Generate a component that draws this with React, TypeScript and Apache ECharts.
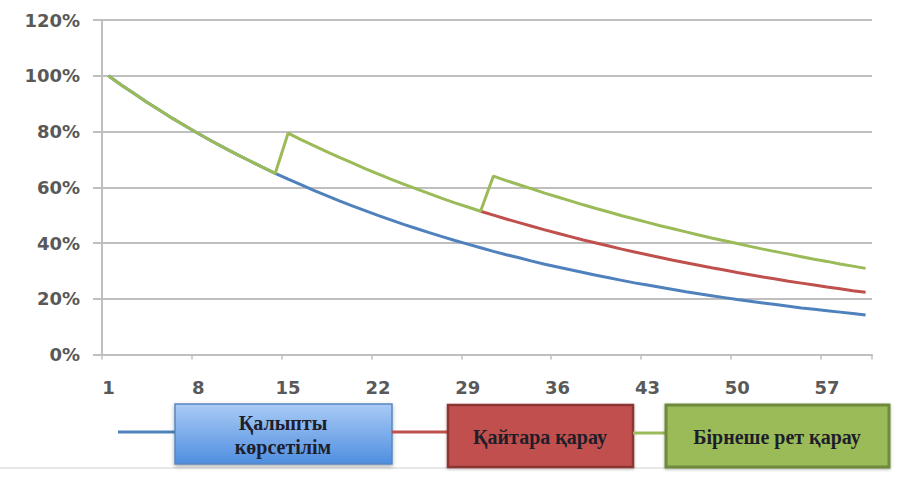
import React, { useEffect, useRef } from "react";
import * as echarts from "echarts";

const categories: string[] = Array.from({ length: 60 }, (_, i) => String(i + 1));

const normalView: number[] = [
  100, 96.7, 93.6, 90.5, 87.6, 84.7, 82.0, 79.3, 76.7, 74.2,
  71.8, 69.5, 67.2, 65.0, 62.9, 60.9, 58.9, 57.0, 55.1, 53.3,
  51.6, 49.9, 48.3, 46.7, 45.2, 43.7, 42.3, 40.9, 39.6, 38.3,
  37.0, 35.8, 34.7, 33.5, 32.4, 31.4, 30.4, 29.4, 28.4, 27.5,
  26.6, 25.7, 24.9, 24.1, 23.3, 22.5, 21.8, 21.1, 20.4, 19.7,
  19.1, 18.5, 17.9, 17.3, 16.7, 16.2, 15.7, 15.2, 14.7, 14.2,
];

const reView: (number | null)[] = [
  null, null, null, null, null, null, null, null, null, null,
  null, null, null, null, null, null, null, null, null, null,
  null, null, null, null, null, null, null, null, null, 51.4,
  50.0, 48.6, 47.3, 46.0, 44.7, 43.5, 42.3, 41.1, 40.0, 38.9,
  37.8, 36.8, 35.8, 34.8, 33.8, 32.9, 32.0, 31.1, 30.3, 29.4,
  28.6, 27.8, 27.1, 26.3, 25.6, 24.9, 24.2, 23.6, 22.9, 22.3,
];

const multiView: number[] = [
  100, 96.7, 93.6, 90.5, 87.6, 84.7, 82.0, 79.3, 76.7, 74.2,
  71.8, 69.5, 67.2, 65.0, 79.4, 77.1, 74.9, 72.8, 70.7, 68.7,
  66.7, 64.8, 62.9, 61.1, 59.4, 57.7, 56.0, 54.4, 52.9, 51.4,
  64.0, 62.4, 60.9, 59.4, 57.9, 56.5, 55.1, 53.7, 52.4, 51.1,
  49.8, 48.6, 47.4, 46.2, 45.1, 44.0, 42.9, 41.8, 40.8, 39.8,
  38.8, 37.8, 36.9, 36.0, 35.1, 34.2, 33.4, 32.5, 31.7, 30.9,
];

const seriesNames: string[] = ["Қалыпты көрсетілім", "Қайтара қарау", "Бірнеше рет қарау"];
const legendLines: string[][] = [["Қалыпты", "көрсетілім"], ["Қайтара қарау"], ["Бірнеше рет қарау"]];
const colors: string[] = ["#4F81BD", "#C0504D", "#9BBB59"];

export default function App() {
  const ref = useRef<HTMLDivElement>(null);
  useEffect(() => {
    if (!ref.current) return;
    const chart = echarts.init(ref.current, undefined, { renderer: "svg" });
    const gray = "#BFBFBF";
    const labelColor = "#595959";
    const boxText = (x: number, y: number, t: string) => ({
      type: "text",
      x,
      y,
      style: {
        text: t,
        fill: "#1E1E2A",
        fontFamily: "'Liberation Serif', 'Times New Roman', 'DejaVu Serif', serif",
        fontSize: 20,
        fontWeight: "bold",
        align: "center",
        verticalAlign: "middle",
      },
    });
    chart.setOption({
      animation: false,
      backgroundColor: "#ffffff",
      grid: { left: 102, right: 31, top: 20, bottom: 122.5, containLabel: false },
      xAxis: {
        type: "category",
        data: categories,
        boundaryGap: true,
        axisLine: { show: true, lineStyle: { color: gray, width: 2 } },
        axisTick: { show: true, interval: 6, length: 5, lineStyle: { color: gray, width: 1.5 } },
        axisLabel: {
          interval: 6,
          margin: 24,
          color: labelColor,
          fontFamily: "DejaVu Sans",
          fontWeight: "bold",
          fontSize: 18,
        },
        splitLine: { show: false },
      },
      yAxis: {
        type: "value",
        min: 0,
        max: 120,
        interval: 20,
        axisLine: { show: true, lineStyle: { color: gray, width: 2 } },
        axisTick: { show: true, length: 9, lineStyle: { color: gray, width: 2 } },
        axisLabel: {
          margin: 22,
          formatter: "{value}%",
          color: labelColor,
          fontFamily: "DejaVu Sans",
          fontWeight: "bold",
          fontSize: 18,
        },
        splitLine: { show: true, lineStyle: { color: gray, width: 2 } },
      },
      series: [
        {
          name: seriesNames[0],
          type: "line",
          data: normalView,
          symbol: "none",
          lineStyle: { color: colors[0], width: 3 },
          itemStyle: { color: colors[0] },
        },
        {
          name: seriesNames[1],
          type: "line",
          data: reView,
          symbol: "none",
          lineStyle: { color: colors[1], width: 3 },
          itemStyle: { color: colors[1] },
        },
        {
          name: seriesNames[2],
          type: "line",
          data: multiView,
          symbol: "none",
          lineStyle: { color: colors[2], width: 3 },
          itemStyle: { color: colors[2] },
        },
      ],
      graphic: [
        { type: "line", shape: { x1: 0, y1: 468, x2: 890, y2: 468 }, style: { stroke: "#D0D0D0", lineWidth: 1 } },
        { type: "line", shape: { x1: 118, y1: 432, x2: 175, y2: 432 }, style: { stroke: colors[0], lineWidth: 3 } },
        {
          type: "rect",
          shape: { x: 175, y: 404, width: 217, height: 60 },
          style: {
            fill: new echarts.graphic.LinearGradient(0, 0, 0, 1, [
              { offset: 0, color: "#A9CBF5" },
              { offset: 1, color: "#4F8EE0" },
            ]),
            stroke: "#5A86C0",
            lineWidth: 1.5,
            shadowBlur: 4,
            shadowColor: "rgba(0,0,0,0.3)",
            shadowOffsetY: 2,
          },
        },
        boxText(283, 423, legendLines[0][0]),
        boxText(283, 447, legendLines[0][1]),
        { type: "line", shape: { x1: 392, y1: 432, x2: 448, y2: 432 }, style: { stroke: colors[1], lineWidth: 3 } },
        {
          type: "rect",
          shape: { x: 448, y: 405, width: 185, height: 62 },
          style: {
            fill: colors[1],
            stroke: "#8C3532",
            lineWidth: 2.5,
            shadowBlur: 3,
            shadowColor: "rgba(0,0,0,0.3)",
            shadowOffsetY: 1,
          },
        },
        boxText(540, 437, legendLines[1][0]),
        { type: "line", shape: { x1: 633, y1: 433, x2: 666, y2: 433 }, style: { stroke: colors[2], lineWidth: 3 } },
        {
          type: "rect",
          shape: { x: 666, y: 405, width: 223, height: 62 },
          style: {
            fill: colors[2],
            stroke: "#6E8A3E",
            lineWidth: 3,
            shadowBlur: 3,
            shadowColor: "rgba(0,0,0,0.3)",
            shadowOffsetY: 1,
          },
        },
        boxText(777, 437, legendLines[2][0]),
      ],
    });
    return () => chart.dispose();
  }, []);
  return (
    <div
      ref={ref}
      style={{ position: "fixed", left: 0, top: 0, width: 903, height: 477 }}
    />
  );
}
